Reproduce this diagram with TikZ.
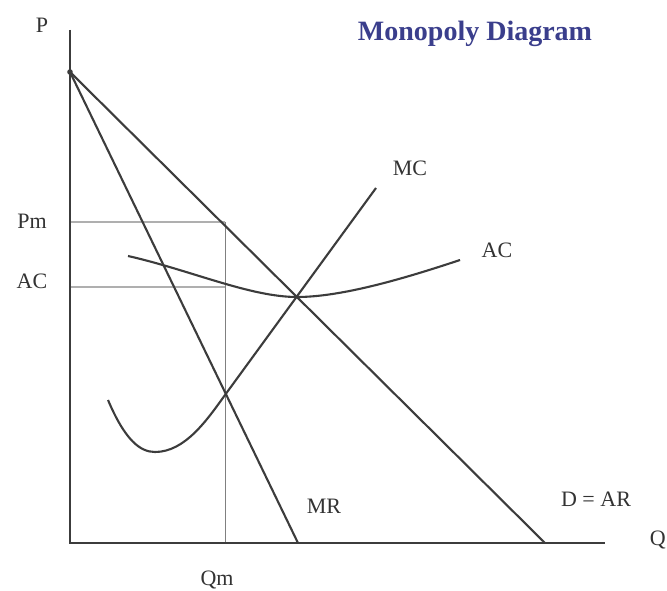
\documentclass[tikz,border=0pt]{standalone}
\usepackage{fontspec}
\setmainfont{Liberation Serif}
\definecolor{titleblue}{RGB}{58,62,140}
\definecolor{curvegray}{RGB}{60,60,60}
\definecolor{guidegray}{RGB}{175,175,175}
\tikzset{
  axisline/.style={draw=curvegray,line width=2.4pt},
  curveline/.style={draw=curvegray,line width=2.1pt},
  guideline/.style={draw=guidegray,line width=1.6pt},
  qmline/.style={draw=gray,line width=0.9pt},
  lbl/.style={font=\fontsize{22}{24}\selectfont,text=black!80,inner sep=0pt},
  ttl/.style={font=\fontsize{28}{30}\selectfont\bfseries,text=titleblue,inner sep=0pt}
}
\begin{document}
\begin{tikzpicture}[x=1pt,y=-1pt]
\useasboundingbox[fill=white] (0,0) rectangle (667,591);
% coordinates
\coordinate (O) at (70,543);
\coordinate (Ptop) at (70,30);
\coordinate (Qend) at (605,543);
\coordinate (A) at (70,72);
\coordinate (Dend) at (545,543);
\coordinate (MRend) at (298,543);
\coordinate (PmL) at (70,222);
\coordinate (PmD) at (225,222);
\coordinate (ACL) at (70,287);
\coordinate (ACR) at (225,287);
\coordinate (QmB) at (225,543);
\coordinate (X) at (225,395);
\coordinate (ACmin) at (297,297);
\coordinate (MCtop) at (376,188);
% labels
\node[lbl] (P) at (42,25) {P};
\node[ttl] (title) at (475,34) {Monopoly Diagram};
\node[lbl] (MClab) at (410,168) {MC};
\node[lbl] (AClab) at (497,250) {AC};
\node[lbl] (Pmlab) at (32,221) {Pm};
\node[lbl] (ACleft) at (32,281) {AC};
\node[lbl] (MRlab) at (324,506) {MR};
\node[lbl] (DAR) at (596,499) {D = AR};
\node[lbl] (Qm) at (217,580) {Qm};
\node[lbl,anchor=east] (Q) at (666,540) {Q};
% guide lines
\draw[guideline] (PmL) -- (PmD);
\draw[guideline] (ACL) -- (ACR);
\draw[qmline] (PmD) -- (QmB);
% axes
\draw[axisline] (Ptop) -- (O) -- (Qend);
% demand and MR
\draw[curveline] (A) -- (Dend);
\draw[curveline] (A) -- (MRend);
\fill[curvegray] (A) circle (2.8pt);
% AC curve
\draw[curveline] (128,256) .. controls (190,270) and (250,297) .. (ACmin)
  .. controls (340,297) and (400,280) .. (460,260);
% MC curve
\draw[curveline] (108,400) .. controls (125,440) and (140,452) .. (155,452)
  .. controls (185,452) and (207,420) .. (X) -- (MCtop);
\end{tikzpicture}
\end{document}
